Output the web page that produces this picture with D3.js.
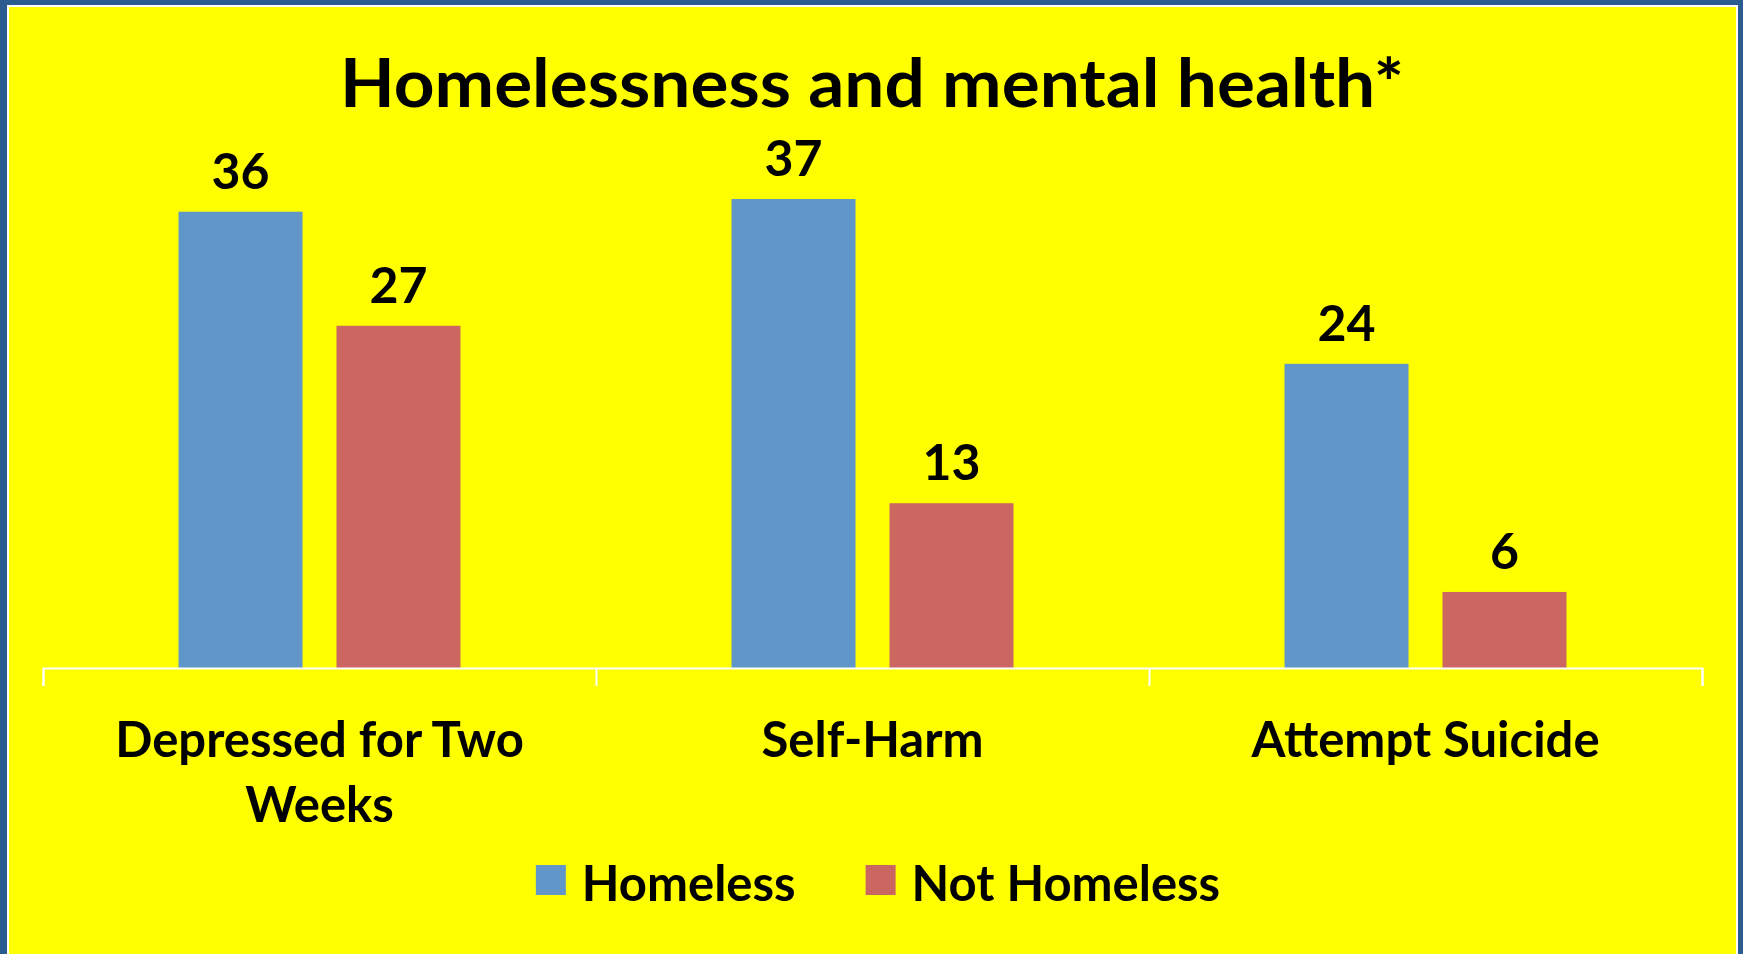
<!DOCTYPE html>
<html>
<head>
<meta charset="utf-8">
<script src="https://cdn.jsdelivr.net/npm/d3@7"></script>
<style>
  html, body { margin: 0; padding: 0; background: #2b5c8f; }
  svg { display: block; }
  text { font-family: Lato, "Open Sans", sans-serif; font-weight: bold; fill: #000; }
</style>
</head>
<body>
<script>
// chart values
var categories = ["Depressed for Two Weeks", "Self-Harm", "Attempt Suicide"];
var series = ["Homeless", "Not Homeless"];
var homeless = [36, 37, 24];
var notHomeless = [27, 13, 6];
var colors = ["#6196c8", "#cc6660"];
var title = "Homelessness and mental health*";

var W = 1743, H = 954;
var axis_y = 668;

var svg = d3.select("body").append("svg")
    .attr("width", W)
    .attr("height", H);

// frame: blue page, white line, yellow chart area
svg.append("rect").attr("x", 0).attr("y", 0).attr("width", W).attr("height", H).attr("fill", "#2b5c8f");
svg.append("rect").attr("x", 7).attr("y", 5).attr("width", 1731).attr("height", H).attr("fill", "#ffffff");
svg.append("rect").attr("x", 9).attr("y", 7).attr("width", 1727).attr("height", H).attr("fill", "#ffff00");

var rows = categories.map(function (c, i) {
    return {cat: c, vals: [homeless[i], notHomeless[i]]};
});

var x = d3.scaleBand().domain(categories).range([43, 1702]);
var x1 = d3.scaleBand().domain(series).range([0, x.bandwidth()])
    .paddingInner(0.215).paddingOuter(0.858);
var y = d3.scaleLinear().domain([0, 40]).range([axis_y, axis_y - 507]);

// title
svg.append("text")
    .attr("x", 872)
    .attr("y", 107)
    .attr("text-anchor", "middle")
    .attr("textLength", 1064)
    .attr("lengthAdjust", "spacingAndGlyphs")
    .style("font-size", "67px")
    .text(title);

// bars
var groups = svg.selectAll(".grp")
    .data(rows)
    .enter().append("g")
    .attr("class", "grp")
    .attr("transform", function (d) { return "translate(" + x(d.cat) + ",0)"; });

groups.selectAll("rect")
    .data(function (d) { return d.vals.map(function (v, j) { return {s: series[j], v: v, j: j}; }); })
    .enter().append("rect")
    .attr("x", function (d) { return x1(d.s); })
    .attr("y", function (d) { return y(d.v); })
    .attr("width", x1.bandwidth())
    .attr("height", function (d) { return axis_y - y(d.v); })
    .attr("fill", function (d) { return colors[d.j]; });

groups.selectAll(".lbl")
    .data(function (d) { return d.vals.map(function (v, j) { return {s: series[j], v: v}; }); })
    .enter().append("text")
    .attr("class", "lbl")
    .attr("x", function (d) { return x1(d.s) + x1.bandwidth() / 2; })
    .attr("y", function (d) { return y(d.v) - 23; })
    .attr("text-anchor", "middle")
    .style("font-size", "50px")
    .text(function (d) { return d.v; });

// axis line with ticks on category boundaries
var xb = d3.scaleLinear().domain([0, categories.length]).range(x.range());
svg.append("g")
    .attr("transform", "translate(0," + axis_y + ")")
    .call(d3.axisBottom(xb).ticks(categories.length).tickSize(18).tickSizeOuter(18).tickFormat(""))
    .call(function (g) {
        g.selectAll("path, line").attr("stroke", "#ffffff").attr("stroke-width", 2);
    });

// category labels
var catAxis = svg.append("g")
    .attr("transform", "translate(0," + axis_y + ")")
    .call(d3.axisBottom(x).tickSize(0).tickPadding(54))
    .call(function (g) { g.select(".domain").remove(); });
catAxis.selectAll("text")
    .attr("fill", "#000")
    .style("font-family", "Lato, 'Open Sans', sans-serif")
    .style("font-weight", "bold")
    .style("font-size", "49px")
    .call(wrap, 480);

function wrap(sel, width) {
    sel.each(function () {
        var t = d3.select(this);
        var words = t.text().split(/\s+/);
        var yy = t.attr("y");
        t.text(null).attr("dy", null);
        var line = [];
        var lineNo = 0;
        var tspan = t.append("tspan").attr("x", 0).attr("y", yy).attr("dy", "0.71em");
        words.forEach(function (w) {
            line.push(w);
            tspan.text(line.join(" "));
            if (tspan.node().getComputedTextLength() > width && line.length > 1) {
                line.pop();
                tspan.text(line.join(" "));
                line = [w];
                lineNo++;
                tspan = t.append("tspan").attr("x", 0).attr("y", yy)
                    .attr("dy", (lineNo * 65 + 0.71 * 49) + "px").text(w);
            }
        });
    });
}

// legend
var legend = svg.append("g");
var lx = 0;
series.forEach(function (s, i) {
    var item = legend.append("g").attr("transform", "translate(" + lx + ",0)");
    item.append("rect")
        .attr("x", 0).attr("y", 865)
        .attr("width", 30).attr("height", 30)
        .attr("fill", colors[i]);
    var t = item.append("text")
        .attr("x", 46).attr("y", 901)
        .style("font-size", "49px")
        .text(s);
    lx += 46 + t.node().getComputedTextLength() + 70;
});
var lw = lx - 70;
legend.attr("transform", "translate(" + (878 - lw / 2) + ",0)");
</script>
</body>
</html>
